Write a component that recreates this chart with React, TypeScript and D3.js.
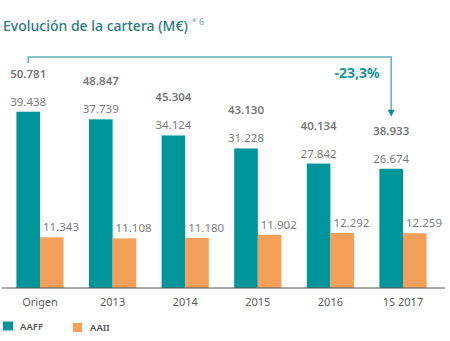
import React from "react";
import * as d3 from "d3";

const categories = ["Origen", "2013", "2014", "2015", "2016", "1S 2017"];
const aaff = [39438, 37739, 34124, 31228, 27842, 26674];
const aaii = [11343, 11108, 11180, 11902, 12292, 12259];
const totals = [50781, 48847, 45304, 43130, 40134, 38933];
const series = ["AAFF", "AAII"];
const changeLabel = "-23,3%";

const TEAL = "#00959a";
const ORANGE = "#f4a05a";
const fmt = (v: number) => d3.format(",")(v).replace(/,/g, ".");

export default function App() {
  const W = 450, H = 341;
  const baseY = 288;
  const x0 = d3.scaleBand<string>().domain(categories).range([3.7, 439.3]).paddingInner(0.35).paddingOuter(0.175);
  const x1 = d3.scaleBand<string>().domain(series).range([0, x0.bandwidth()]);
  const y = d3.scaleLinear().domain([0, 40000]).range([baseY, baseY - 178.8]);
  const font = "'Noto Sans', sans-serif";
  const bw = x1.bandwidth();
  const firstC = (x0(categories[0]) as number) + (x1("AAFF") as number) + bw / 2;
  const lastC = (x0(categories[5]) as number) + (x1("AAFF") as number) + bw / 2;
  const lastTotalY = y(aaff[5]) - 6 - 28;
  const arrowTip = lastTotalY - 18;
  return (
    <svg width={W} height={H} style={{ position: "absolute", left: 0, top: 0 }} fontFamily={font}>
      <rect width={W} height={H} fill="#fff" />
      <text x={3} y={31} fontSize={14} fontWeight={500} fill="#2c7b7e">
        Evolución de la cartera (M€)
        <tspan fontSize={9} dx={4} dy={-6} fill="#86b3b5">* 6</tspan>
      </text>
      {/* bracket */}
      <path d={`M${firstC},63 V57 H${lastC} V${arrowTip - 6}`} fill="none" stroke="#62b3b6" strokeWidth={1.5} />
      <path d={`M${lastC - 3.5},${arrowTip - 7} L${lastC + 3.5},${arrowTip - 7} L${lastC},${arrowTip} Z`} fill="#128f94" />
      <text x={357} y={78} textAnchor="middle" fontSize={14} fontWeight={700} fill="#17979b">{changeLabel}</text>
      {categories.map((c, i) => {
        const gx = x0(c) as number;
        const tx = gx + (x1("AAFF") as number);
        const ox = gx + (x1("AAII") as number);
        const ty = y(aaff[i]);
        const oy = y(aaii[i]);
        return (
          <g key={c}>
            <rect x={tx} y={ty} width={bw} height={baseY - ty} fill={TEAL} />
            <rect x={ox} y={oy} width={bw} height={baseY - oy} fill={ORANGE} />
            <text x={tx + bw / 2} y={ty - 6} textAnchor="middle" fontSize={11.5} fill="#7d7d7d">{fmt(aaff[i])}</text>
            <text x={tx + bw / 2} y={ty - 6 - 28} textAnchor="middle" fontSize={11.5} fontWeight={600} fill="#787878">{fmt(totals[i])}</text>
            <text x={ox + 3} y={oy - 6} fontSize={11.5} fill="#7d7d7d">{fmt(aaii[i])}</text>
            <text x={gx + x0.bandwidth() / 2} y={306} textAnchor="middle" fontSize={11} fill="#5e5e5e">{c}</text>
          </g>
        );
      })}
      <line x1={2} x2={445} y1={baseY} y2={baseY} stroke="#555" strokeWidth={1} />
      <rect x={3} y={321.5} width={10} height={9} fill={TEAL} />
      <text x={20} y={329.5} fontSize={9.5} fontWeight={600} fill="#555">{series[0]}</text>
      <rect x={73} y={323} width={9} height={9} fill={ORANGE} />
      <text x={90} y={331} fontSize={9.5} fontWeight={600} fill="#555">{series[1]}</text>
    </svg>
  );
}
